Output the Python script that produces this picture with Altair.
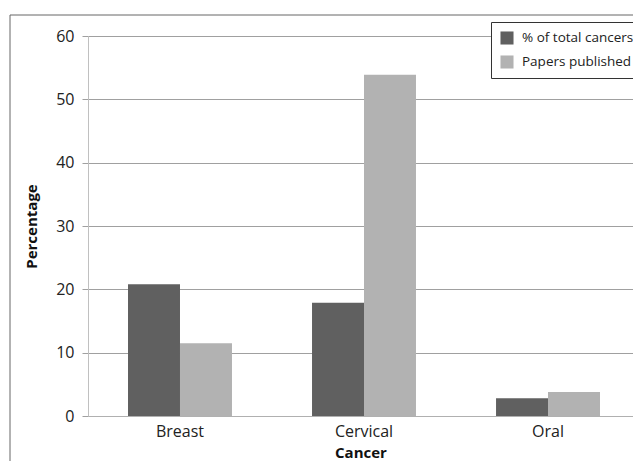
import altair as alt
import pandas as pd

cancers = ["Breast", "Cervical", "Oral"]
series = ["% of total cancers", "Papers published"]
pct_total = [20.8, 17.9, 2.8]
papers = [11.5, 53.9, 3.8]

rows = []
for i, c in enumerate(cancers):
    rows.append({"Cancer": c, "Series": series[0], "Value": pct_total[i]})
    rows.append({"Cancer": c, "Series": series[1], "Value": papers[i]})
df = pd.DataFrame(rows)

FONT = "Open Sans"

bars = alt.Chart(df).mark_bar().encode(
    x=alt.X("Cancer:N", sort=cancers, title="Cancer",
            scale=alt.Scale(paddingInner=0.435, paddingOuter=0.1984, align=0.548),
            axis=alt.Axis(labelAngle=0, ticks=False, labelFontSize=16, labelPadding=7,
                          titleFontSize=15, titleFontWeight="bold", titlePadding=6,
                          domainColor="#b0b0b0", labelColor="#222", titleColor="#111")),
    xOffset=alt.XOffset("Series:N", sort=series),
    y=alt.Y("Value:Q", title="Percentage",
            scale=alt.Scale(domain=[0, 60]),
            axis=alt.Axis(values=[0, 10, 20, 30, 40, 50, 60], tickSize=6, tickColor="#a0a0a0",
                          gridColor="#a0a0a0", domainColor="#c0c0c0", labelFontSize=16,
                          labelPadding=8, titleFontSize=15, titleFontWeight="bold",
                          titlePadding=16, labelColor="#222", titleColor="#111")),
    color=alt.Color("Series:N", sort=series,
                    scale=alt.Scale(domain=series, range=["#606060", "#b2b2b2"]),
                    legend=alt.Legend(title=None, orient="none", legendX=403, legendY=-14,
                                      symbolType="square", symbolSize=170, symbolStrokeWidth=0,
                                      labelFontSize=13.5, labelOffset=8, rowPadding=10, padding=9,
                                      strokeColor="#333", fillColor="white",
                                      labelColor="#222")),
)

border = alt.Chart(pd.DataFrame({"a": [0]})).mark_rect(
    fill=None, stroke="#666", strokeWidth=1, clip=False
).encode(x=alt.value(-78), x2=alt.value(700), y=alt.value(-21), y2=alt.value(600))

chart = alt.layer(border, bars).properties(
    width=545, height=380,
    padding={"left": 80, "top": 28, "right": 0, "bottom": 45},
    autosize=alt.AutoSizeParams(type="none"),
).configure_view(stroke=None).configure(font=FONT)

chart.save("out.html", embed_options={"renderer": "svg", "actions": False})
